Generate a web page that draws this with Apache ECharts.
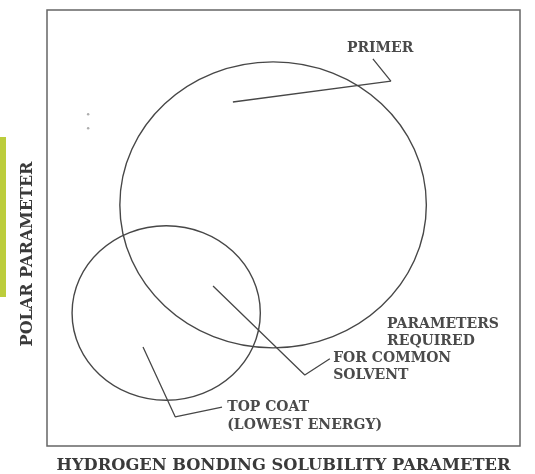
<!DOCTYPE html>
<html><head><meta charset="utf-8">
<script src="https://cdn.jsdelivr.net/npm/echarts@6/dist/echarts.min.js"></script>
<style>html,body{margin:0;padding:0;background:#fff}#c{width:535px;height:474px}</style>
</head><body><div id="c"></div>
<script>
// Regions (data units: x 0-100, y 0-100)
const regionNames = ['PRIMER', 'TOP COAT'];
const regionCenters = [[47.8, 55.3], [25.2, 30.5]];
const regionRadii = [[32.4, 32.8], [19.9, 20.0]];

// Labels
const labelTexts = ['PRIMER', 'PARAMETERS', 'REQUIRED', 'FOR COMMON', 'SOLVENT', 'TOP COAT', '(LOWEST ENERGY)'];
const labelPos = [[63.4, 91.3], [71.9, 27.8], [71.9, 23.9], [60.5, 20.0], [60.5, 16.1], [38.1, 8.9], [38.1, 4.8]];

// Leader lines
const leaderPrimer = [[68.9, 88.8], [72.7, 83.7], [39.3, 78.9]];
const leaderSolvent = [[35.1, 36.7], [54.5, 16.3], [59.8, 20.0]];
const leaderTopCoat = [[20.3, 22.7], [27.1, 6.7], [37.0, 8.9]];

// Stray dots
const dots = [[8.7, 76.1], [8.7, 72.9]];

const xTitle = 'HYDROGEN BONDING SOLUBILITY PARAMETER';
const yTitle = 'POLAR PARAMETER';

const ink = '#474747';
const chart = echarts.init(document.getElementById('c'));
const leaderSeries = [leaderPrimer, leaderSolvent, leaderTopCoat].map(d => ({
  type: 'line', data: d, symbol: 'none', silent: true,
  lineStyle: {color: ink, width: 1.3}
}));
chart.setOption({
  animation: false,
  backgroundColor: '#fff',
  grid: {left: 47, top: 10, width: 473, height: 436, outerBoundsMode: 'none', containLabel: false,
    show: true, borderColor: '#666', borderWidth: 1.5, backgroundColor: 'transparent'},
  xAxis: {type: 'value', min: 0, max: 100, name: xTitle, nameLocation: 'middle', nameGap: 12,
    nameTextStyle: {fontFamily: 'DejaVu Serif', fontWeight: 'bold', fontSize: 16.3, color: '#3a3a3a'},
    axisLine: {show: false}, axisTick: {show: false}, axisLabel: {show: false}, splitLine: {show: false}},
  yAxis: {type: 'value', min: 0, max: 100,
    axisLine: {show: false}, axisTick: {show: false}, axisLabel: {show: false}, splitLine: {show: false}},
  graphic: [
    {type: 'rect', left: 0, top: 137, shape: {width: 6, height: 160}, style: {fill: '#bccd3c'}},
    {type: 'text', x: 28, y: 254, rotation: Math.PI / 2,
      style: {text: yTitle, font: 'bold 16px "DejaVu Serif"', fill: '#3a3a3a', textAlign: 'center', textVerticalAlign: 'middle'}}
  ],
  series: [
    {type: 'custom', silent: true,
      data: regionCenters.map((c, i) => [c[0], c[1], regionRadii[i][0], regionRadii[i][1]]),
      renderItem: (params, api) => {
        const c = api.coord([api.value(0), api.value(1)]);
        const s = api.size([api.value(2), api.value(3)]);
        return {type: 'ellipse', shape: {cx: c[0], cy: c[1], rx: s[0], ry: s[1]},
          style: {fill: 'none', stroke: ink, lineWidth: 1.4}};
      }},
    ...leaderSeries,
    {type: 'custom', silent: true,
      data: labelPos.map((p, i) => [p[0], p[1], i]),
      renderItem: (params, api) => {
        const c = api.coord([api.value(0), api.value(1)]);
        return {type: 'text', x: c[0], y: c[1],
          style: {text: labelTexts[api.value(2)], fill: '#4a4a4a', font: 'bold 14px "DejaVu Serif"', textAlign: 'left', textVerticalAlign: 'middle'}};
      }},
    {type: 'scatter', data: dots, symbolSize: 2.5, silent: true, itemStyle: {color: '#999'}}
  ]
});
</script></body></html>
